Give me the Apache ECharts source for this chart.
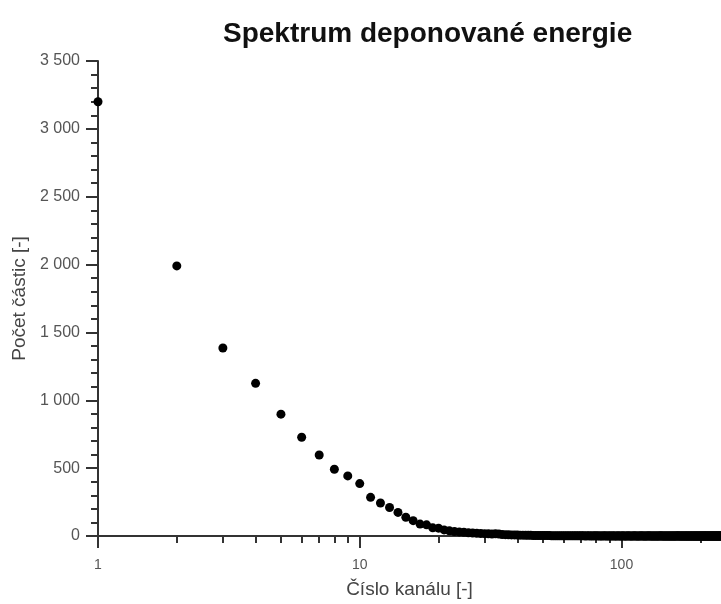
<!DOCTYPE html>
<html>
<head>
<meta charset="utf-8">
<script src="https://cdn.jsdelivr.net/npm/echarts@6/dist/echarts.min.js"></script>
<style>
html,body{margin:0;padding:0;background:#fff;}
#chart{width:721px;height:604px;}
</style>
</head>
<body>
<div id="chart"></div>
<script>
// Channel counts, channel 1..240
const countsHead = [3200, 1990, 1385, 1125, 898, 728, 597, 492, 443, 386,
  285, 243, 210, 174, 138, 113, 88, 82, 60, 58,
  45, 38, 33, 30, 27, 24, 22, 20, 18, 17,
  16, 14, 16, 15, 11, 10, 9, 8, 8, 7,
  6, 6, 5, 5, 5, 4, 4, 4, 3, 3,
  3, 3, 3, 2, 2, 2, 2, 2, 2, 2,
  2, 1, 1, 1, 1, 1, 1, 1, 1, 1];
const countsTail = [
  1,1,0,1,1,0,1,0,1,1, 0,1,0,0,1,0,1,0,0,1,
  0,0,1,0,0,0,1,0,0,0, 1,0,0,0,0,1,0,0,0,0,
  0,1,0,0,0,0,0,0,1,0, 0,0,0,0,0,0,1,0,0,0,
  0,0,0,0,0,0,0,0,0,0, 1,0,0,0,0,0,0,0,0,0,
  0,0,0,0,0,0,0,0,0,0, 0,0,0,1,0,0,0,0,0,0,
  0,0,0,0,0,0,0,0,0,0, 0,0,0,0,0,0,0,0,0,0,
  0,0,0,0,0,0,0,0,0,0, 0,0,0,0,0,0,0,0,0,0,
  0,0,0,0,0,0,0,0,0,0, 0,0,0,0,0,0,0,0,0,0,
  0,0,0,0,0,0,0,0,0,0, 0,0,0,0,0,0,0,0,0,0];
const counts = countsHead.concat(countsTail);
const channels = counts.map((_, i) => i + 1);

const xMajorTicks = [1, 10, 100];
const xMinorTicks = [2, 3, 4, 5, 6, 7, 8, 9, 20, 30, 40, 50, 60, 70, 80, 90, 200];
const xLabels = [1, 10, 100];

const titleText = 'Spektrum deponované energie';
const xName = 'Číslo kanálu [-]';
const yName = 'Počet částic [-]';

const fmtThousands = v => String(v).replace(/\B(?=(\d{3})+(?!\d))/g, ' ');

const axisColor = '#333';
const labelColor = '#555';
const fontFam = 'Liberation Sans, Arial, sans-serif';

const chart = echarts.init(document.getElementById('chart'), null, {renderer: 'canvas'});
chart.setOption({
  backgroundColor: '#fff',
  animation: false,
  title: {
    text: titleText,
    left: 218,
    top: 15,
    textStyle: {fontFamily: fontFam, fontSize: 28, fontWeight: 'bold', color: '#111'}
  },
  grid: {left: 98, top: 61, bottom: 66, right: 0, containLabel: false},
  xAxis: [{
    type: 'log',
    logBase: 10,
    min: 1,
    max: 240,
    name: xName,
    nameLocation: 'middle',
    nameGap: 44,
    nameTextStyle: {fontFamily: fontFam, fontSize: 19, color: '#444'},
    axisLine: {show: true, lineStyle: {color: axisColor, width: 2}},
    axisTick: {show: true, length: 12, lineStyle: {color: axisColor, width: 2}, customValues: xMajorTicks},
    axisLabel: {show: true, margin: 22, fontFamily: fontFam, fontSize: 14, color: labelColor, customValues: xLabels,
      formatter: v => String(v)},
    splitLine: {show: false},
    minorTick: {show: false}
  }, {
    type: 'log',
    logBase: 10,
    min: 1,
    max: 240,
    position: 'bottom',
    axisLine: {show: false},
    axisTick: {show: true, length: 7, lineStyle: {color: axisColor, width: 2}, customValues: xMinorTicks},
    axisLabel: {show: false},
    splitLine: {show: false}
  }],
  yAxis: {
    type: 'value',
    min: 0,
    max: 3500,
    interval: 500,
    name: yName,
    nameLocation: 'middle',
    nameGap: 68,
    nameTextStyle: {fontFamily: fontFam, fontSize: 19, color: '#444'},
    axisLine: {show: true, lineStyle: {color: axisColor, width: 2}},
    axisTick: {show: true, length: 12, lineStyle: {color: axisColor, width: 2}},
    minorTick: {show: true, splitNumber: 5, length: 7, lineStyle: {color: axisColor, width: 2}},
    axisLabel: {margin: 18, fontFamily: fontFam, fontSize: 16, color: labelColor, formatter: fmtThousands},
    splitLine: {show: false}
  },
  series: [{
    type: 'scatter',
    xAxisIndex: 0,
    data: channels.map((c, i) => [c, counts[i]]),
    symbol: 'circle',
    symbolSize: 9,
    itemStyle: {color: '#000', opacity: 1},
    clip: false
  }]
});
</script>
</body>
</html>
